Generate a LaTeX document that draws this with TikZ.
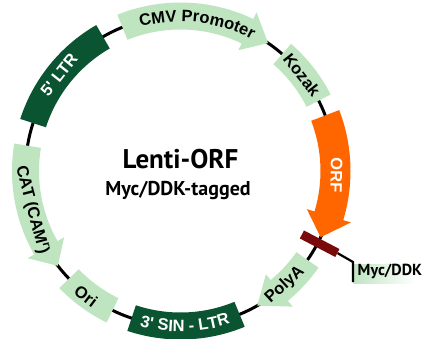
\documentclass[tikz,border=0pt]{standalone}
\usepackage{fontspec}
\setmainfont{Liberation Sans}
\newfontfamily\ptsans{PT Sans}
\usetikzlibrary{decorations.text}
\definecolor{dkgreen}{HTML}{0B5431}
\definecolor{ltgreen}{HTML}{BFE5C0}
\definecolor{orfcol}{HTML}{FF6600}
\definecolor{tagred}{HTML}{7A0A0A}
\newcommand\Rmid{155}
\newcommand\bandseg[4]{%
  \pgfmathsetmacro\myrin{\Rmid-#4}%
  \pgfmathsetmacro\myrout{\Rmid+#4}%
  \fill[#1] (#2:\myrin pt) arc[start angle=#2,end angle=#3,radius=\myrin pt]
    -- (#3:\myrout pt) arc[start angle=#3,end angle=#2,radius=\myrout pt] -- cycle;}
\newcommand\arrowseg[6]{%
  \pgfmathsetmacro\myrin{\Rmid-#5}%
  \pgfmathsetmacro\myrout{\Rmid+#5}%
  \pgfmathsetmacro\myhin{\Rmid-#6}%
  \pgfmathsetmacro\myhout{\Rmid+#6}%
  \fill[#1] (#2:\myrin pt) arc[start angle=#2,end angle=#3,radius=\myrin pt]
    -- (#3:\myhin pt) -- (#4:\Rmid pt) -- (#3:\myhout pt) -- (#3:\myrout pt)
    arc[start angle=#3,end angle=#2,radius=\myrout pt] -- cycle;}
\newcommand\sq{\textquotesingle}
\tikzset{
  lbl/.style={font=\bfseries\fontsize{16.5}{16.5}\selectfont, inner sep=0pt},
  wlbl/.style={lbl, text=white},
  backbone/.style={line width=3pt, black},
  tagline/.style={line width=2.2pt, black}
}
\begin{document}
\begin{tikzpicture}[x=1pt,y=1pt]
\useasboundingbox (-180.5,-167) rectangle (249.5,171);
\fill[white] (-180.5,-167) rectangle (249.5,171);
% backbone
\draw[backbone] (0,0) circle[radius=155pt];
% features
\bandseg{dkgreen}{120}{162}{13.5}
\arrowseg{ltgreen}{112}{64.4}{55.6}{13.5}{21}
\bandseg{ltgreen}{27}{49}{13.5}
\arrowseg{orfcol}{21}{-16.8}{-25.3}{15}{23}
\arrowseg{ltgreen}{-35}{-50.4}{-60.3}{13.5}{21}
\bandseg{dkgreen}{-108.4}{-67.6}{13.5}
\bandseg{ltgreen}{224}{244}{13.5}
\arrowseg{ltgreen}{170.6}{209.7}{217.7}{13.5}{21}
% tag marker
\node[fill=tagred, minimum width=40pt, minimum height=9pt, inner sep=0pt, rotate=-27.6] (tag) at (-27.6:157pt) {};
\coordinate (tagbend) at (172.5,-91);
\coordinate (tagend) at (172.5,-111);
\shade[left color=ltgreen, right color=white] (173,-93) rectangle (234,-112);
\draw[tagline] (tag.east) -- (tagbend) -- (tagend);
\node[anchor=base west, inner sep=0pt, font=\ptsans\bfseries\fontsize{16}{16}\selectfont] (myclab) at (177,-104) {Myc/DDK};
% labels
\node[wlbl, rotate=51.6] (ltr5) at (141.6:155pt) {5\textquotesingle\ LTR};
\path[decorate, decoration={text along path, text align=center,
  text={|\bfseries\fontsize{16.5}{16.5}\selectfont|CMV Promoter}}]
  (112:149.5pt) arc[start angle=112, end angle=55, radius=149.5pt];
\node[lbl, rotate=-51.6] (kozak) at (38.4:155pt) {Kozak};
\node[wlbl, rotate=-91.5] (orf) at (-1.5:156pt) {ORF};
\node[lbl, rotate=42.5] (polya) at (-47.5:154.5pt) {PolyA};
\path[decorate, decoration={text along path, text align=center,
  text color=white,
  text={|\bfseries\fontsize{16.5}{16.5}\selectfont|3{\sq} SIN - LTR}}]
  (-112:160.5pt) arc[start angle=-112, end angle=-64.6, radius=160.5pt];
\node[lbl, rotate=-37] (ori) at (233:157pt) {Ori};
\node[lbl, rotate=-75.3] (cat) at (194.7:153.5pt) {CAT (CAM\textsuperscript{r})};
% centre title
\node[anchor=base, inner sep=0pt, font=\ptsans\bfseries\fontsize{27}{27}\selectfont] (title) at (0,3) {Lenti-ORF};
\node[anchor=base, inner sep=0pt, font=\ptsans\bfseries\fontsize{20}{20}\selectfont] (subtitle) at (-2.5,-24) {Myc/DDK-tagged};
\end{tikzpicture}
\end{document}
